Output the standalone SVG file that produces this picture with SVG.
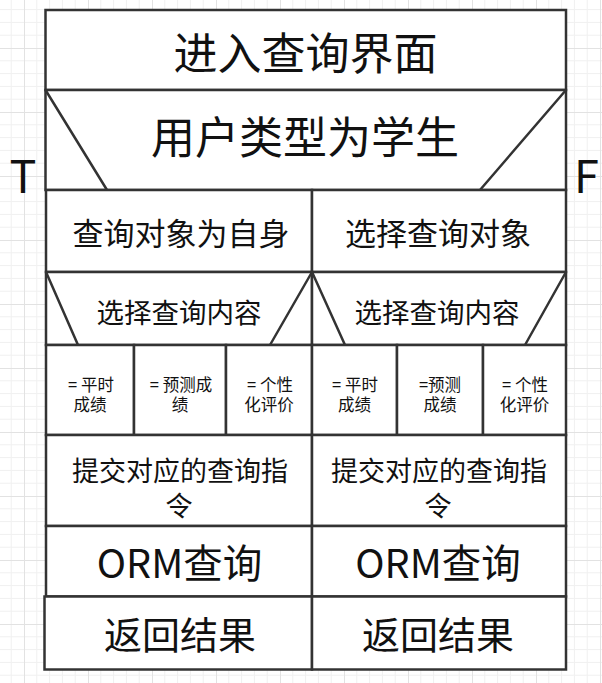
<svg xmlns="http://www.w3.org/2000/svg" width="602" height="683" viewBox="0 0 602 683">
<style>
.box{fill:#ffffff;stroke:#333333;stroke-width:2.5}
.diag{fill:none;stroke:#333333;stroke-width:2.5}
text{font-family:"Noto Sans CJK SC","Noto Sans",sans-serif;fill:#111111;text-anchor:middle}
.f44{font-size:44px}
.f45{font-size:45px}
.f31{font-size:31px}
.f27{font-size:27.5px}
.f27b{font-size:27px}
.f17{font-size:16.5px}
.f38{font-size:38px}
.f39{font-size:39.5px}
</style>
<defs>
<pattern id="grid" x="24" y="48" width="64" height="64" patternUnits="userSpaceOnUse">
<path d="M12.8 0V64M25.6 0V64M38.4 0V64M51.2 0V64M0 12.8H64M0 25.6H64M0 38.4H64M0 51.2H64" stroke="#f0f0f0" stroke-width="1" fill="none"/>
<path d="M0.5 0V64M0 0.5H64" stroke="#e2e2e2" stroke-width="1" fill="none"/>
</pattern>
</defs>
<rect x="0" y="0" width="602" height="683" fill="#ffffff"/>
<rect x="0" y="0" width="602" height="683" fill="url(#grid)"/>

<g id="n-enter">
<rect class="box" x="45.5" y="10" width="520.5" height="80"/>
<text class="f44" x="305.5" y="70">进入查询界面</text>
</g>

<g id="n-cond-user">
<rect class="box" x="45.5" y="90" width="520.5" height="100"/>
<path class="diag" d="M45.5 90L107 190M566 90L480 190"/>
<text class="f44" x="305" y="154">用户类型为学生</text>
<text class="f45" x="23" y="193">T</text>
<text class="f45" x="586.5" y="193">F</text>
</g>

<g id="n-self">
<rect class="box" x="46" y="190" width="266" height="82"/>
<text class="f31" x="181" y="245">查询对象为自身</text>
</g>
<g id="n-select-target">
<rect class="box" x="312" y="190" width="254" height="82"/>
<text class="f31" x="438" y="245">选择查询对象</text>
</g>

<g id="n-case-left">
<rect class="box" x="46" y="272" width="266" height="73"/>
<path class="diag" d="M46 272L78 345M312 272L270 345"/>
<text class="f27" x="179" y="323">选择查询内容</text>
</g>
<g id="n-case-right">
<rect class="box" x="312" y="272" width="254" height="73"/>
<path class="diag" d="M312 272L345 345M566 272L525 345"/>
<text class="f27" x="437" y="323">选择查询内容</text>
</g>

<g id="n-l-usual">
<rect class="box" x="46" y="345" width="88" height="90"/>
<text class="f17" x="91" y="391">= 平时<tspan x="90" dy="20">成绩</tspan></text>
</g>
<g id="n-l-predict">
<rect class="box" x="134" y="345" width="92" height="90"/>
<text class="f17" x="181" y="391">= 预测成<tspan x="180" dy="20">绩</tspan></text>
</g>
<g id="n-l-personal">
<rect class="box" x="226" y="345" width="86" height="90"/>
<text class="f17" x="270" y="391">= 个性<tspan x="269" dy="20">化评价</tspan></text>
</g>
<g id="n-r-usual">
<rect class="box" x="312" y="345" width="85" height="90"/>
<text class="f17" x="355" y="391">= 平时<tspan x="354.5" dy="20">成绩</tspan></text>
</g>
<g id="n-r-predict">
<rect class="box" x="397" y="345" width="86" height="90"/>
<text class="f17" x="440" y="391">=预测<tspan x="440" dy="20">成绩</tspan></text>
</g>
<g id="n-r-personal">
<rect class="box" x="483" y="345" width="83" height="90"/>
<text class="f17" x="525" y="391">= 个性<tspan x="524.5" dy="20">化评价</tspan></text>
</g>

<g id="n-l-submit">
<rect class="box" x="46" y="435" width="266" height="91"/>
<text class="f27b" x="180" y="481">提交对应的查询指<tspan x="179" dy="35">令</tspan></text>
</g>
<g id="n-r-submit">
<rect class="box" x="312" y="435" width="254" height="91"/>
<text class="f27b" x="439" y="481">提交对应的查询指<tspan x="438" dy="35">令</tspan></text>
</g>

<g id="n-l-orm">
<rect class="box" x="46" y="526" width="266" height="70.5"/>
<text class="f39" x="179.5" y="578">ORM查询</text>
</g>
<g id="n-r-orm">
<rect class="box" x="312" y="526" width="254" height="70.5"/>
<text class="f39" x="438" y="578">ORM查询</text>
</g>

<g id="n-l-return">
<rect class="box" x="44.5" y="596.5" width="267.5" height="73"/>
<text class="f38" x="180" y="649">返回结果</text>
</g>
<g id="n-r-return">
<rect class="box" x="312" y="596.5" width="254" height="73"/>
<text class="f38" x="438" y="649">返回结果</text>
</g>

<g id="connectors"></g>
</svg>
